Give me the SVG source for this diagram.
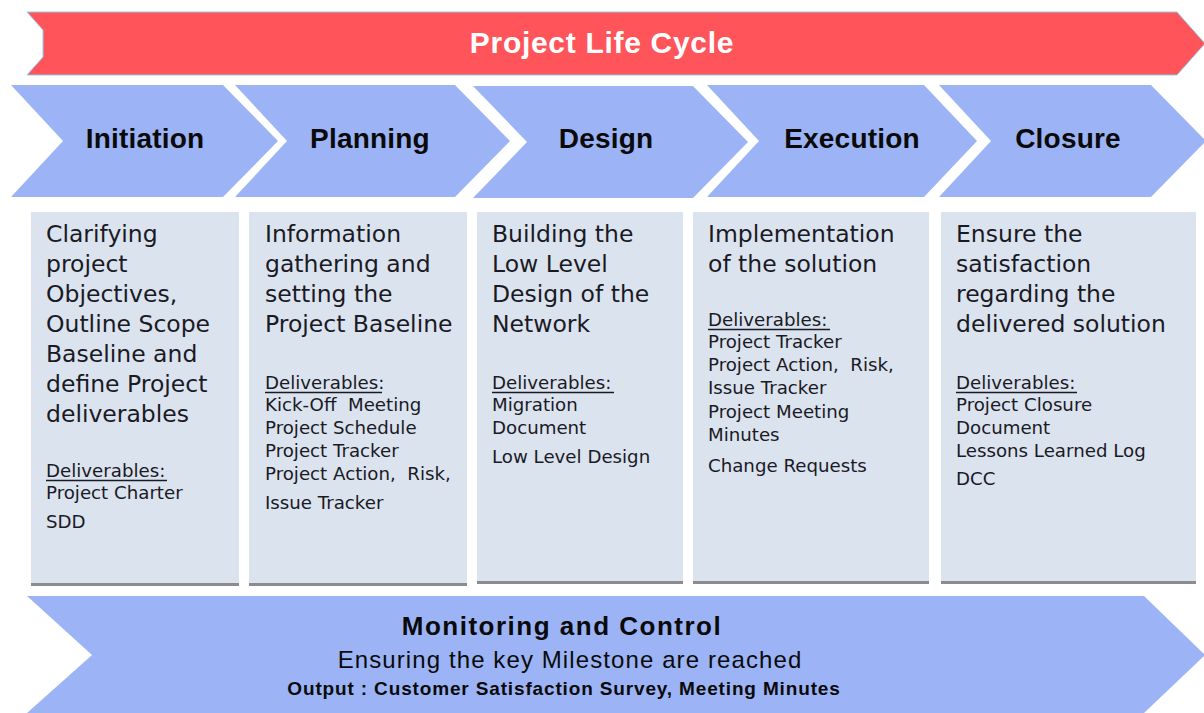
<svg xmlns="http://www.w3.org/2000/svg" width="1204" height="713" viewBox="0 0 1204 713">
<style>
.bg{fill:#ffffff}
.red{fill:#ff545a;stroke:#8fcfe8;stroke-width:1}
.chev{fill:#9cb4f6}
.box{fill:#dbe3ef}
.shadow{fill:#8c8c8c}
.title{font-family:"Liberation Sans",Arial,sans-serif;font-weight:bold;fill:#ffffff;font-size:30px;letter-spacing:0.7px;text-anchor:middle}
.phase{font-family:"Liberation Sans",Arial,sans-serif;font-weight:bold;fill:#0a0a0a;font-size:28px;letter-spacing:0.2px;text-anchor:middle}
.desc{font-family:"DejaVu Sans",Verdana,sans-serif;fill:#1a1a24;font-size:23.5px}
.del{font-family:"DejaVu Sans",Verdana,sans-serif;fill:#1a1a24;font-size:18.2px}
.ul{stroke:#1a1a24;stroke-width:1.6}
.mc{font-family:"Liberation Sans",Arial,sans-serif;fill:#0a0a0a;text-anchor:middle}
</style>
<rect class="bg" x="0" y="0" width="1204" height="713"/>

<g id="life-cycle">
<path class="red" d="M27,12 L1177,12 L1205,43.5 L1177,75 L27,75 L43,57 L43,30 Z"/>
<text class="title" x="602" y="53">Project Life Cycle</text>
</g>

<g id="initiation">
<path class="chev" d="M11,85 L223,85 L278,141 L223,197 L11,197 L63,141 Z"/>
<text class="phase" x="145" y="148">Initiation</text>
</g>
<g id="planning">
<path class="chev" d="M235,85 L455,85 L510,141 L455,197 L235,197 L287,141 Z"/>
<text class="phase" x="370" y="148">Planning</text>
</g>
<g id="design">
<path class="chev" d="M473,86 L693,86 L748,142 L693,198 L473,198 L527,142 Z"/>
<text class="phase" x="606" y="148">Design</text>
</g>
<g id="execution">
<path class="chev" d="M707,85 L924,85 L977,141 L924,197 L707,197 L759,141 Z"/>
<text class="phase" x="852" y="148">Execution</text>
</g>
<g id="closure">
<path class="chev" d="M939,85 L1151,85 L1206,141 L1151,197 L939,197 L991,141 Z"/>
<text class="phase" x="1068" y="148">Closure</text>
</g>

<g id="initiation-box">
<rect class="box" x="31" y="212" width="208" height="372"/>
<rect class="shadow" x="31" y="583" width="208" height="3"/>
<text class="desc" x="46" y="242">Clarifying</text>
<text class="desc" x="46" y="272">project</text>
<text class="desc" x="46" y="302">Objectives,</text>
<text class="desc" x="46" y="332">Outline Scope</text>
<text class="desc" x="46" y="362">Baseline and</text>
<text class="desc" x="46" y="392">define Project</text>
<text class="desc" x="46" y="422">deliverables</text>
<text class="del" x="46" y="477">Deliverables:</text>
<line class="ul" x1="46" y1="480.5" x2="167" y2="480.5"/>
<text class="del" x="46" y="499">Project Charter</text>
<text class="del" x="46" y="528">SDD</text>
</g>

<g id="planning-box">
<rect class="box" x="249" y="212" width="218" height="372"/>
<rect class="shadow" x="249" y="583" width="218" height="3"/>
<text class="desc" x="265" y="242">Information</text>
<text class="desc" x="265" y="272">gathering and</text>
<text class="desc" x="265" y="302">setting the</text>
<text class="desc" x="265" y="332">Project Baseline</text>
<text class="del" x="265" y="389">Deliverables:</text>
<line class="ul" x1="265" y1="392.5" x2="382" y2="392.5"/>
<text class="del" x="265" y="411" xml:space="preserve">Kick-Off  Meeting</text>
<text class="del" x="265" y="434">Project Schedule</text>
<text class="del" x="265" y="457">Project Tracker</text>
<text class="del" x="265" y="480" xml:space="preserve">Project Action,  Risk,</text>
<text class="del" x="265" y="509">Issue Tracker</text>
</g>

<g id="design-box">
<rect class="box" x="477" y="212" width="206" height="370"/>
<rect class="shadow" x="477" y="581" width="206" height="3"/>
<text class="desc" x="492" y="242">Building the</text>
<text class="desc" x="492" y="272">Low Level</text>
<text class="desc" x="492" y="302">Design of the</text>
<text class="desc" x="492" y="332">Network</text>
<text class="del" x="492" y="389">Deliverables:</text>
<line class="ul" x1="492" y1="392.5" x2="614" y2="392.5"/>
<text class="del" x="492" y="411">Migration</text>
<text class="del" x="492" y="434">Document</text>
<text class="del" x="492" y="463">Low Level Design</text>
</g>

<g id="execution-box">
<rect class="box" x="693" y="212" width="236" height="370"/>
<rect class="shadow" x="693" y="581" width="236" height="3"/>
<text class="desc" x="708" y="242">Implementation</text>
<text class="desc" x="708" y="272">of the solution</text>
<text class="del" x="708" y="326">Deliverables:</text>
<line class="ul" x1="708" y1="329.5" x2="830" y2="329.5"/>
<text class="del" x="708" y="348">Project Tracker</text>
<text class="del" x="708" y="371" xml:space="preserve">Project Action,  Risk,</text>
<text class="del" x="708" y="394">Issue Tracker</text>
<text class="del" x="708" y="418">Project Meeting</text>
<text class="del" x="708" y="441">Minutes</text>
<text class="del" x="708" y="472">Change Requests</text>
</g>

<g id="closure-box">
<rect class="box" x="941" y="212" width="255" height="370"/>
<rect class="shadow" x="941" y="581" width="255" height="3"/>
<text class="desc" x="956" y="242">Ensure the</text>
<text class="desc" x="956" y="272">satisfaction</text>
<text class="desc" x="956" y="302">regarding the</text>
<text class="desc" x="956" y="332">delivered solution</text>
<text class="del" x="956" y="389">Deliverables:</text>
<line class="ul" x1="956" y1="392.5" x2="1077" y2="392.5"/>
<text class="del" x="956" y="411">Project Closure</text>
<text class="del" x="956" y="434">Document</text>
<text class="del" x="956" y="457">Lessons Learned Log</text>
<text class="del" x="956" y="485">DCC</text>
</g>

<g id="monitoring-control">
<path class="chev" d="M27,596 L1144,596 L1205,655 L1144,713 L27,713 L92,655 Z"/>
<text class="mc" x="562" y="635" style="font-weight:bold;font-size:26px;letter-spacing:1.5px">Monitoring and Control</text>
<text class="mc" x="570" y="668" style="font-size:24px;letter-spacing:1.1px">Ensuring the key Milestone are reached</text>
<text class="mc" x="564" y="695" style="font-weight:bold;font-size:19px;letter-spacing:0.85px">Output : Customer Satisfaction Survey, Meeting Minutes</text>
</g>

<g id="connectors"/>
</svg>
